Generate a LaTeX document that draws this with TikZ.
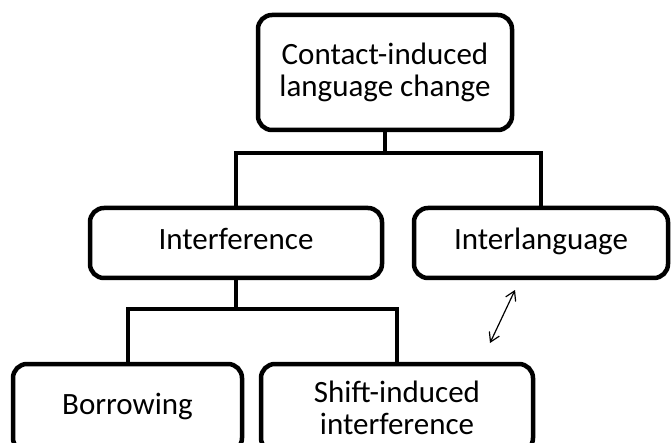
\documentclass[tikz,border=0pt]{standalone}
\usepackage{fontspec}
\setmainfont{Carlito}
\usetikzlibrary{arrows.meta}

\begin{document}
\begin{tikzpicture}[x=1pt, y=-1pt,
    box/.style={draw, line width=4.5pt, rounded corners=14pt, align=center,
        inner sep=0pt, font=\fontsize{31}{32}\selectfont},
    oneline/.style={text height=20pt, text depth=7pt},
    link/.style={line width=4pt}]
    \useasboundingbox (0, 0) rectangle (671, 443);
    \clip (0, 0) rectangle (671, 443);
    \node[box, minimum width=254pt, minimum height=115pt] (change) at (385, 72.5) {Contact-induced\\language change};
    \node[box, oneline, minimum width=292pt, minimum height=70pt] (interf) at (236, 243) {Interference};
    \node[box, oneline, minimum width=254pt, minimum height=70pt] (interl) at (541, 243) {Interlanguage};
    \node[box, oneline, minimum width=229pt, minimum height=88pt] (borrow) at (127.5, 408) {Borrowing};
    \node[box, minimum width=272pt, minimum height=88pt] (shift) at (397, 408) {Shift-induced\\interference};
    \draw[link] (change.south) -- ++(0, 21) coordinate (j1);
    \draw[link] (j1) -| (interf.north);
    \draw[link] (j1) -| (interl.north);
    \draw[link] (interf.south) -- ++(0, 29) coordinate (j2);
    \draw[link] (j2) -| (borrow.north);
    \draw[link] (j2) -| (shift.north);
    \coordinate (a1) at (515, 290);
    \coordinate (a2) at (490, 343);
    \draw[line width=1.2pt, {Straight Barb[length=9pt, width=11pt]}-{Straight Barb[length=9pt, width=11pt]}] (a1) -- (a2);
\end{tikzpicture}
\end{document}
